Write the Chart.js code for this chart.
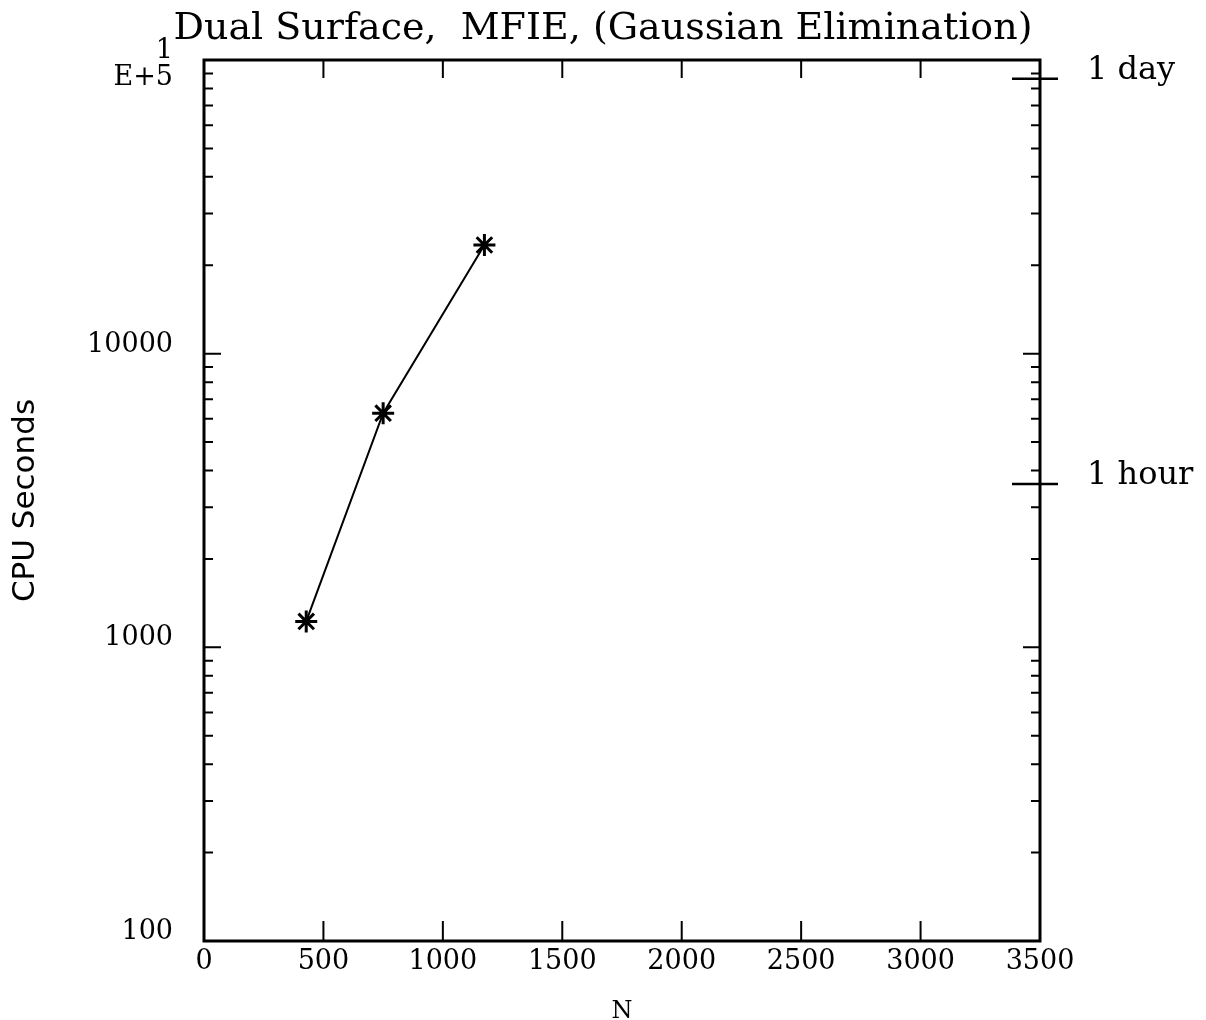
<!DOCTYPE html>
<html>
<head>
<meta charset="utf-8">
<script src="https://cdn.jsdelivr.net/npm/chart.js@4.4.1/dist/chart.umd.min.js"></script>
<style>
  html, body { margin: 0; padding: 0; background: #fff; }
  #wrap { width: 1206px; height: 1020px; }
</style>
</head>
<body>
<div id="wrap"><canvas id="cpuChart"></canvas></div>
<script>
// Data
const nValues = [428, 750, 1174];
const cpuSeconds = [1225, 6270, 23450];

// Axis ticks
const xTicks = [0, 500, 1000, 1500, 2000, 2500, 3000, 3500];
const yTicks = [
  100, 200, 300, 400, 500, 600, 700, 800, 900,
  1000, 2000, 3000, 4000, 5000, 6000, 7000, 8000, 9000,
  10000, 20000, 30000, 40000, 50000, 60000, 70000, 80000, 90000,
  100000
];
const yMajor = [100, 1000, 10000, 100000];
const yMajorLabels = ['100', '1000', '10000', ['', '1', 'E+5']];

// Time markers on the right side
const timeMarks = [3600, 86400];
const timeLabels = ['1 hour', '1 day'];

const BLACK = '#000';
const serif = 'DejaVu Serif';

// keep the edge labels from pushing the plot area around
const noEdgePad = s => { s.paddingTop = 0; s.paddingBottom = 0; s.paddingLeft = 0; s.paddingRight = 0; };

// inward ticks, frame and time markers
const frameTicks = {
  id: 'frameTicks',
  afterDraw(chart) {
    const { ctx, chartArea: a, scales: { x, y } } = chart;
    ctx.save();
    ctx.strokeStyle = BLACK;
    ctx.lineWidth = 2;
    ctx.beginPath();
    y.ticks.forEach(t => {
      const py = y.getPixelForValue(t.value);
      const len = yMajor.includes(t.value) ? 17 : 9;
      ctx.moveTo(a.left, py); ctx.lineTo(a.left + len, py);
      ctx.moveTo(a.right, py); ctx.lineTo(a.right - len, py);
    });
    x.ticks.forEach(t => {
      if (t.value <= x.min || t.value >= x.max) return;
      const px = x.getPixelForValue(t.value);
      ctx.moveTo(px, a.bottom); ctx.lineTo(px, a.bottom - 20);
      ctx.moveTo(px, a.top); ctx.lineTo(px, a.top + 18);
    });
    ctx.stroke();

    ctx.lineWidth = 3;
    ctx.strokeRect(a.left, a.top, a.right - a.left, a.bottom - a.top);

    ctx.lineWidth = 2.5;
    ctx.beginPath();
    timeMarks.forEach(v => {
      const py = y.getPixelForValue(v);
      ctx.moveTo(a.right - 28, py); ctx.lineTo(a.right + 18, py);
    });
    ctx.stroke();
    ctx.restore();
  }
};

new Chart(document.getElementById('cpuChart'), {
  type: 'line',
  data: {
    datasets: [{
      data: nValues.map((n, i) => ({ x: n, y: cpuSeconds[i] })),
      xAxisID: 'x',
      yAxisID: 'y',
      borderColor: BLACK,
      borderWidth: 2,
      tension: 0,
      fill: false,
      pointStyle: 'star',
      pointRadius: 11,
      pointBorderWidth: 3,
      pointBorderColor: BLACK,
      pointBackgroundColor: BLACK
    }]
  },
  options: {
    responsive: true,
    maintainAspectRatio: false,
    animation: false,
    layout: { padding: 0 },
    plugins: {
      legend: { display: false },
      tooltip: { enabled: false },
      title: {
        display: true,
        text: 'Dual Surface,  MFIE, (Gaussian Elimination)',
        color: BLACK,
        font: { family: serif, size: 38, weight: 'normal' },
        padding: { top: 6, bottom: 8.4 }
      }
    },
    scales: {
      x: {
        type: 'linear',
        min: 0,
        max: 3500,
        afterBuildTicks: s => { s.ticks = xTicks.map(v => ({ value: v })); },
        afterFit: s => { s.height = 79; noEdgePad(s); },
        grid: { display: false, drawTicks: false },
        border: { display: false },
        ticks: {
          color: BLACK,
          font: { family: serif, size: 27 },
          padding: 5,
          maxRotation: 0,
          autoSkip: false,
          callback: v => String(v)
        },
        title: {
          display: true,
          text: 'N',
          color: BLACK,
          font: { family: serif, size: 24, lineHeight: 1 },
          padding: { top: 0, bottom: -4 }
        }
      },
      y: {
        type: 'logarithmic',
        position: 'left',
        min: 100,
        max: 100000,
        afterBuildTicks: s => { s.ticks = yTicks.map(v => ({ value: v })); },
        afterFit: s => { s.width = 204; noEdgePad(s); },
        grid: { display: false, drawTicks: false },
        border: { display: false },
        ticks: {
          color: BLACK,
          font: { family: serif, size: 27, lineHeight: 1 },
          padding: 31,
          labelOffset: -9,
          autoSkip: false,
          callback: v => {
            const i = yMajor.indexOf(v);
            return i >= 0 ? yMajorLabels[i] : '';
          }
        },
        title: {
          display: true,
          text: 'CPU Seconds',
          color: BLACK,
          font: { family: 'DejaVu Sans', size: 31 },
          padding: { top: 7 }
        }
      },
      y2: {
        type: 'logarithmic',
        position: 'right',
        min: 100,
        max: 100000,
        afterBuildTicks: s => { s.ticks = timeMarks.map(v => ({ value: v })); },
        afterFit: s => { s.width = 166; noEdgePad(s); },
        grid: { display: false, drawTicks: false },
        border: { display: false },
        ticks: {
          color: BLACK,
          font: { family: serif, size: 32 },
          padding: 47,
          labelOffset: -8,
          autoSkip: false,
          callback: v => timeLabels[timeMarks.indexOf(v)]
        }
      }
    }
  },
  plugins: [frameTicks]
});
</script>
</body>
</html>
